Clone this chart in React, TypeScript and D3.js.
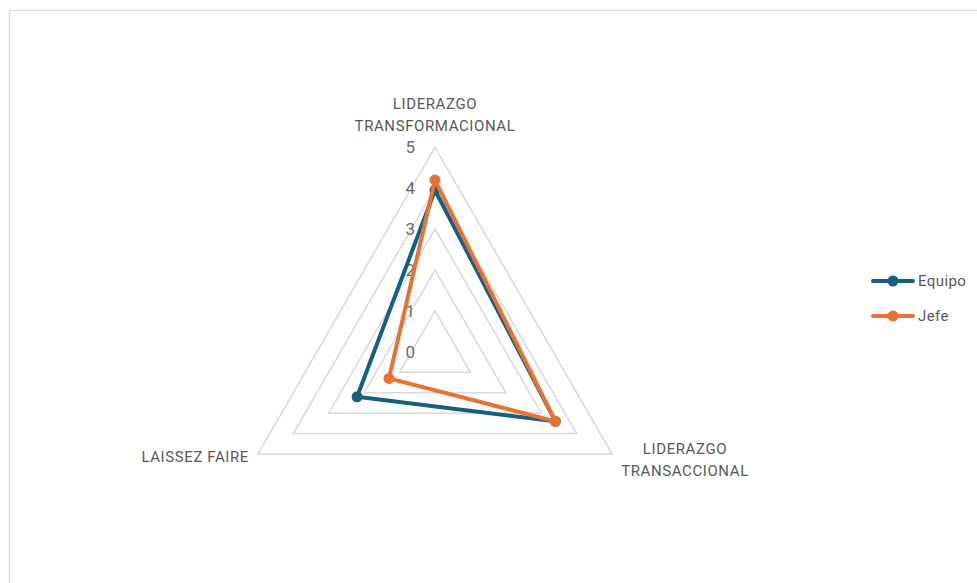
import React from "react";
import * as d3 from "d3";

const categories = ["LIDERAZGO TRANSFORMACIONAL", "LIDERAZGO TRANSACCIONAL", "LAISSEZ FAIRE"];
const categoryLines = [["LIDERAZGO", "TRANSFORMACIONAL"], ["LIDERAZGO", "TRANSACCIONAL"], ["LAISSEZ FAIRE"]];
const equipoValues = [3.95, 3.4, 2.2];
const jefeValues = [4.2, 3.4, 1.3];
const tickValues = [0, 1, 2, 3, 4, 5];
const seriesNames = ["Equipo", "Jefe"];
const seriesColors = ["#156082", "#E97132"];

const W = 977;
const H = 583;
const cx = 435;
const cy = 351.8;
const R = 204.5;
const FONT = "Roboto, 'Liberation Sans', Arial, sans-serif";

export default function App() {
  const r = d3.scaleLinear().domain([0, 5]).range([0, R]);
  const angle = (i: number) => (i * 2 * Math.PI) / categories.length; // 0 = up, clockwise
  const pt = (i: number, v: number): [number, number] => [
    cx + r(v) * Math.sin(angle(i)),
    cy - r(v) * Math.cos(angle(i)),
  ];
  const closedLine = d3.line<[number, number]>().curve(d3.curveLinearClosed);
  const series = [equipoValues, jefeValues];
  const labelPos: { x: number; y: number; anchor: string }[] = [
    { x: cx, y: 109, anchor: "middle" },
    { x: 685, y: 454, anchor: "middle" },
    { x: 249, y: 462, anchor: "end" },
  ];

  return (
    <div style={{ position: "absolute", left: 0, top: 0 }}>
      <svg width={W} height={H} style={{ display: "block", background: "#fff" }}>
        <rect x={9.5} y={10.5} width={W + 20} height={H + 20} fill="#fff" stroke="#d9d9d9" strokeWidth={1.3} />
        {tickValues.filter((t) => t > 0).map((t) => (
          <path
            key={t}
            d={closedLine(categories.map((_, i) => pt(i, t))) || ""}
            fill="none"
            stroke="#d9d9d9"
            strokeWidth={1.5}
          />
        ))}
        {tickValues.map((t) => (
          <text
            key={"t" + t}
            x={415}
            y={cy - r(t)}
            dy="0.36em"
            textAnchor="end"
            fontFamily={FONT}
            fontSize={17}
            fill="#6b6b6b"
          >
            {t}
          </text>
        ))}
        {series.map((vals, s) => (
          <g key={s}>
            <path
              d={closedLine(vals.map((v, i) => pt(i, v))) || ""}
              fill="none"
              stroke={seriesColors[s]}
              strokeWidth={4}
              strokeLinejoin="round"
            />
            {vals.map((v, i) => {
              const [x, y] = pt(i, v);
              return <circle key={i} cx={x} cy={y} r={5.5} fill={seriesColors[s]} />;
            })}
          </g>
        ))}
        {categoryLines.map((lines, i) => (
          <text
            key={"c" + i}
            x={labelPos[i].x}
            y={labelPos[i].y}
            textAnchor={labelPos[i].anchor}
            fontFamily={FONT}
            fontSize={15}
            letterSpacing={0.6}
            fill="#595959"
          >
            {lines.map((l, j) => (
              <tspan key={j} x={labelPos[i].x} dy={j === 0 ? 0 : 22}>
                {l}
              </tspan>
            ))}
          </text>
        ))}
        {seriesNames.map((name, s) => {
          const y = 281 + s * 35;
          return (
            <g key={name}>
              <line x1={873} x2={913} y1={y} y2={y} stroke={seriesColors[s]} strokeWidth={4} strokeLinecap="round" />
              <circle cx={893} cy={y} r={5.5} fill={seriesColors[s]} />
              <text x={918} y={y} dy="0.36em" fontFamily={FONT} fontSize={15} letterSpacing={0.4} fill="#595959">
                {name}
              </text>
            </g>
          );
        })}
      </svg>
    </div>
  );
}
